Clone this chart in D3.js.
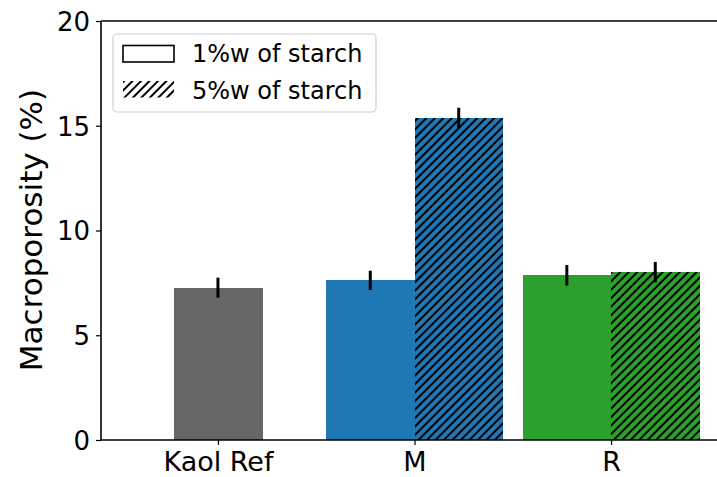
<!DOCTYPE html>
<html>
<head>
<meta charset="utf-8">
<script src="https://cdn.jsdelivr.net/npm/d3@7"></script>
<style>
  html, body { margin: 0; padding: 0; background: #fff; }
  svg { display: block; font-family: "DejaVu Sans", sans-serif; }
</style>
</head>
<body>
<script>
const categories = ["Kaol Ref", "M", "R"];
const colors = ["#666666", "#1f77b4", "#2ca02c"];
const values1 = [7.27, 7.62, 7.86];   // 1%w of starch
const errors1 = [0.48, 0.46, 0.49];
const values5 = [null, 15.37, 8.01];  // 5%w of starch
const errors5 = [null, 0.49, 0.49];
const yTicks = [0, 5, 10, 15, 20];
const legendLabels = ["1%w of starch", "5%w of starch"];
const yLabel = "Macroporosity (%)";

const W = 717, H = 477;
const mLeft = 101, mTop = 21, mBottom = 440, mRight = 728;

const svg = d3.select("body").append("svg").attr("width", W).attr("height", H);
const defs = svg.append("defs");

function hatch(id, bg) {
  const p = defs.append("pattern").attr("id", id)
    .attr("patternUnits", "userSpaceOnUse")
    .attr("width", 6).attr("height", 6)
    .attr("patternTransform", "rotate(45)");
  p.append("rect").attr("width", 6).attr("height", 6).attr("fill", bg);
  p.append("line").attr("x1", 1).attr("y1", 0).attr("x2", 1).attr("y2", 6)
    .attr("stroke", "#000").attr("stroke-width", 2);
}
colors.forEach((c, i) => hatch("h" + i, c));
hatch("hleg", "#fff");

const x = d3.scalePoint().domain(categories).range([mLeft, mRight]).padding(0.595);
const step = x.step();
const bw = step * 0.45;
const y = d3.scaleLinear().domain([0, 20]).range([mBottom, mTop]);

const bars = [];
categories.forEach((c, i) => {
  const cx = x(c);
  if (values5[i] == null) {
    bars.push({x0: cx - bw / 2, v: values1[i], e: errors1[i], fill: colors[i]});
  } else {
    bars.push({x0: cx - bw, v: values1[i], e: errors1[i], fill: colors[i]});
    bars.push({x0: cx, v: values5[i], e: errors5[i], fill: "url(#h" + i + ")"});
  }
});

svg.append("g").attr("shape-rendering", "crispEdges")
  .selectAll("rect").data(bars).join("rect")
  .attr("x", d => d.x0).attr("width", bw + 0.5)
  .attr("y", d => y(d.v)).attr("height", d => y(0) - y(d.v))
  .attr("fill", d => d.fill);

svg.append("g").selectAll("line").data(bars).join("line")
  .attr("x1", d => d.x0 + bw / 2).attr("x2", d => d.x0 + bw / 2)
  .attr("y1", d => y(d.v - d.e)).attr("y2", d => y(d.v + d.e))
  .attr("stroke", "#000").attr("stroke-width", 3);

// axes
const yAxis = svg.append("g").attr("transform", `translate(${mLeft},0)`)
  .call(d3.axisLeft(y).tickValues(yTicks).tickSize(5).tickPadding(6));
const xAxis = svg.append("g").attr("transform", `translate(0,${mBottom})`)
  .call(d3.axisBottom(x).tickSize(5).tickPadding(7));
[yAxis, xAxis].forEach(g => {
  g.select(".domain").remove();
  g.selectAll(".tick line").attr("stroke", "#000").attr("stroke-width", 1.2);
  g.selectAll(".tick text").attr("fill", "#000")
    .attr("font-family", "DejaVu Sans");
});
yAxis.selectAll(".tick text").attr("font-size", 26).attr("dy", "0.36em");
xAxis.selectAll(".tick text").attr("font-size", 27).attr("dy", "0.72em");

// spines
svg.append("line").attr("x1", mLeft).attr("x2", mLeft).attr("y1", mTop).attr("y2", mBottom)
  .attr("stroke", "#000").attr("stroke-width", 1.6);
svg.append("line").attr("x1", mLeft).attr("x2", mRight).attr("y1", mBottom).attr("y2", mBottom)
  .attr("stroke", "#000").attr("stroke-width", 1.6);
svg.append("line").attr("x1", mLeft).attr("x2", mRight).attr("y1", mTop).attr("y2", mTop)
  .attr("stroke", "#000").attr("stroke-width", 1.6);

// y label
svg.append("text")
  .attr("transform", `translate(42,230) rotate(-90)`)
  .attr("text-anchor", "middle")
  .attr("font-size", 31).attr("fill", "#000")
  .text(yLabel);

// legend
const lg = svg.append("g");
lg.append("rect").attr("x", 113).attr("y", 34).attr("width", 263).attr("height", 78)
  .attr("rx", 4).attr("fill", "#fff").attr("fill-opacity", 0.8)
  .attr("stroke", "#d0d0d0").attr("stroke-width", 1.2);
const legRows = legendLabels.map((t, i) => ({t, i}));
lg.selectAll(".sw").data(legRows).join("rect")
  .attr("x", 123).attr("width", 51)
  .attr("y", d => 45.5 + d.i * 35.5).attr("height", 16.5)
  .attr("fill", d => d.i === 0 ? "#fff" : "url(#hleg)")
  .attr("stroke", d => d.i === 0 ? "#000" : "none")
  .attr("stroke-width", 1.6);
lg.selectAll("text").data(legRows).join("text")
  .attr("x", 192).attr("y", d => 62 + d.i * 37)
  .attr("font-size", 24).attr("fill", "#000")
  .text(d => d.t);
</script>
</body>
</html>
